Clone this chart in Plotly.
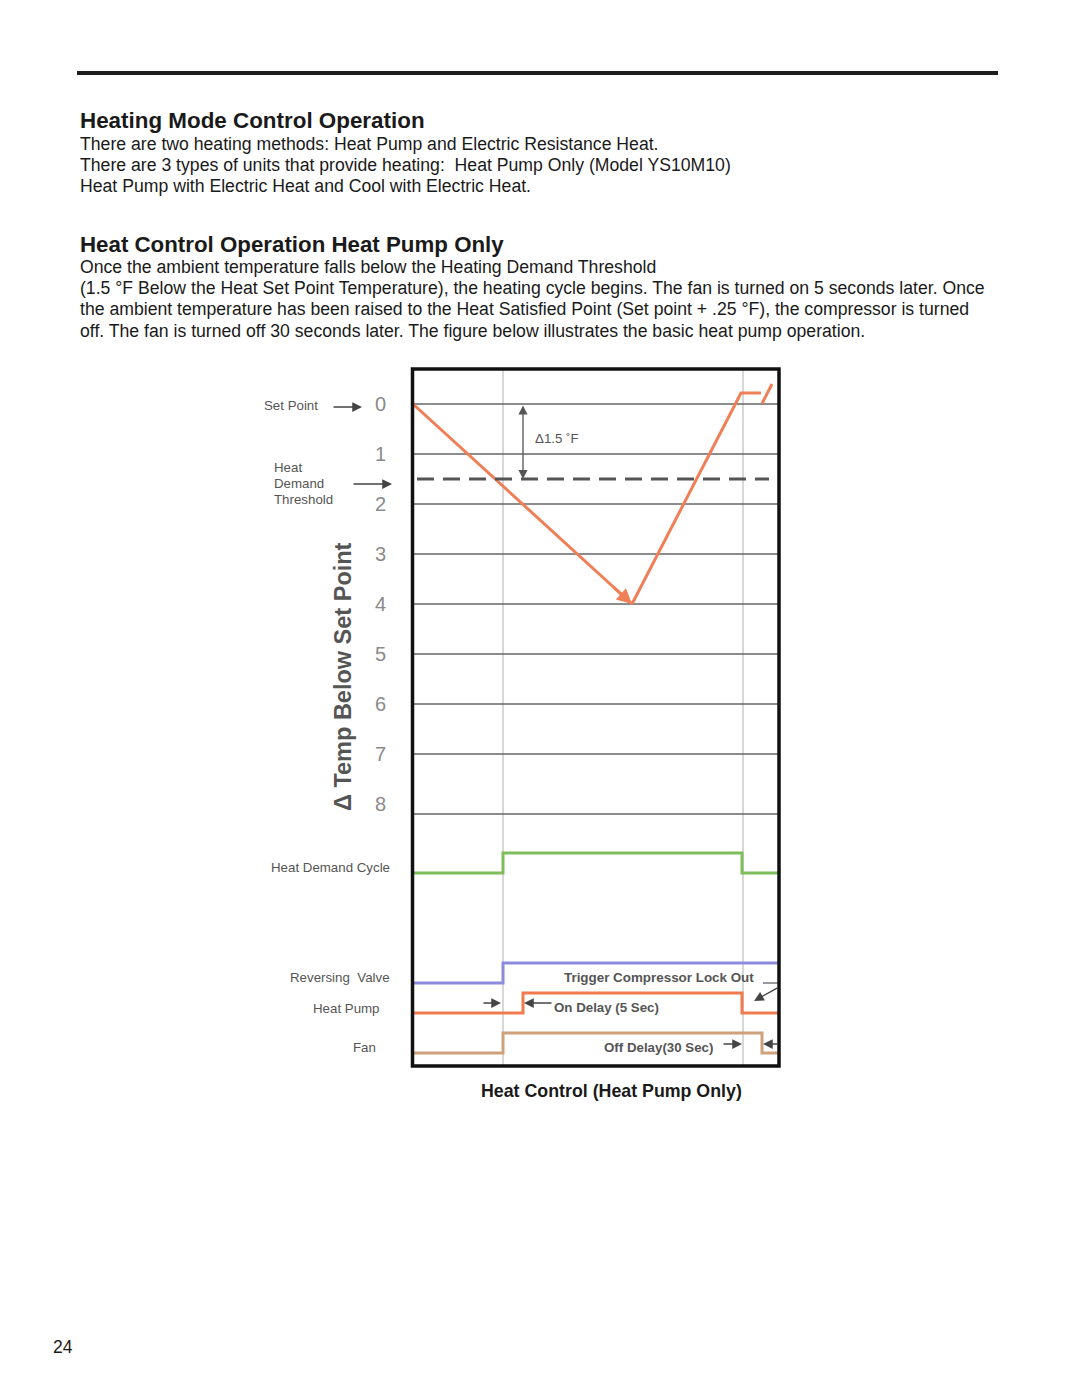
import plotly.graph_objects as go

W, H = 1080, 1397

# ---------------- data ----------------
temp_ticks = [0, 1, 2, 3, 4, 5, 6, 7, 8]
temp_ticktext = ["0", "1", "2", "3", "4", "5", "6", "7", "8"]
grid_levels = [0, 1, 2, 3, 4, 5, 6, 7, 8.2]
threshold = 1.5

# temperature below set point over time (arbitrary time units)
fall_t = [0, 219]
fall_temp = [0, 4]
rise_t = [219, 328, 348]
rise_temp = [4, -0.22, -0.22]
next_t = [349, 359]
next_temp = [-0.01, -0.40]

event_times = [90, 330]  # heat demand start / satisfied

hdc_t = [0, 90, 329, 366]
hdc_state = [0, 1, 0, 0]
rv_t = [0, 90, 366]
rv_state = [0, 1, 1]
hp_t = [0, 110, 329, 366]
hp_state = [0, 1, 0, 0]
fan_t = [0, 90, 349, 366]
fan_state = [0, 1, 0, 0]

# ---------------- helpers ----------------
def px(x):
    return x / W

def py(y):
    return 1 - y / H

FONT = "Liberation Sans, Arial, sans-serif"

fig = go.Figure()

# temperature traces
ORANGE = "#EF7F57"
fig.add_trace(go.Scatter(
    x=fall_t, y=fall_temp, mode="lines",
    line=dict(color=ORANGE, width=3),
    xaxis="x", yaxis="y", hoverinfo="skip", showlegend=False))
fig.add_trace(go.Scatter(
    x=rise_t, y=rise_temp, mode="lines", line=dict(color=ORANGE, width=3),
    xaxis="x", yaxis="y", hoverinfo="skip", showlegend=False))
fig.add_trace(go.Scatter(
    x=next_t, y=next_temp, mode="lines", line=dict(color=ORANGE, width=3),
    xaxis="x", yaxis="y", hoverinfo="skip", showlegend=False))

# signal lanes (baseline offsets on the signal axis, amplitude 1)
lanes = [
    (hdc_t, hdc_state, 9.7, "#7DBE5B"),
    (rv_t, rv_state, 4.2, "#8C8ADA"),
    (hp_t, hp_state, 2.7, "#EE7A4E"),
    (fan_t, fan_state, 0.7, "#CFA07C"),
]
for t, s, base, col in lanes:
    fig.add_trace(go.Scatter(
        x=t, y=[base + v for v in s], mode="lines",
        line=dict(color=col, width=3, shape="hv"),
        xaxis="x", yaxis="y2", hoverinfo="skip", showlegend=False))

shapes = []
# horizontal grid lines
for g in grid_levels:
    shapes.append(dict(type="line", xref="x", yref="y", x0=0, x1=366, y0=g, y1=g,
                       line=dict(color="#666666", width=1.5), layer="below"))
# vertical event lines spanning the whole box
for t in event_times:
    shapes.append(dict(type="line", xref="x", yref="paper", x0=t, x1=t,
                       y0=py(1066), y1=py(369),
                       line=dict(color="#b0b0b0", width=1), layer="below"))
# threshold dashed line
shapes.append(dict(type="line", xref="x", yref="y", x0=4, x1=356, y0=threshold, y1=threshold,
                   line=dict(color="#555555", width=3, dash="17px,9px")))
# trigger short line
shapes.append(dict(type="line", xref="paper", yref="paper", x0=px(763), x1=px(779),
                   y0=py(983), y1=py(983), line=dict(color="#555555", width=1.2)))
# box border
shapes.append(dict(type="rect", xref="paper", yref="paper", x0=px(412.5), x1=px(779),
                   y0=py(1066), y1=py(369), line=dict(color="#111111", width=3.5)))
# top rule
shapes.append(dict(type="line", xref="paper", yref="paper", x0=px(77), x1=px(998),
                   y0=py(73), y1=py(73), line=dict(color="#1e1e1e", width=4)))

ann = []

def text(x, y, s, size=17.65, color="#1a1a1a", family=FONT, xanchor="left", bold=False, **kw):
    if bold:
        s = "<b>" + s + "</b>"
    ann.append(dict(x=px(x), y=py(y), xref="paper", yref="paper", text=s,
                    showarrow=False, xanchor=xanchor, yanchor="middle",
                    font=dict(size=size, color=color, family=family), **kw))

def arrow(hx, hy, tx, ty, color="#444444", width=1.3, size=1.5):
    ann.append(dict(x=px(hx), y=py(hy), xref="paper", yref="paper",
                    ax=tx - hx, ay=ty - hy, axref="pixel", ayref="pixel",
                    text="", showarrow=True, arrowhead=2, arrowsize=size,
                    arrowwidth=width, arrowcolor=color))

# arrowhead at the bottom of the falling temperature line
ann.append(dict(x=fall_t[-1], y=fall_temp[-1], xref="x", yref="y",
                ax=fall_t[-1] - 20, ay=fall_temp[-1] - 20 * (fall_temp[-1] - fall_temp[0]) / (fall_t[-1] - fall_t[0]),
                axref="x", ayref="y", text="", showarrow=True, arrowhead=2,
                arrowsize=1, arrowwidth=3, arrowcolor=ORANGE, standoff=0))

# page text
text(78, 121, "Heating Mode Control Operation", size=22.4, bold=True)
text(78, 144, "There are two heating methods: Heat Pump and Electric Resistance Heat.")
text(78, 165, "There are 3 types of units that provide heating:  Heat Pump Only (Model YS10M10)")
text(78, 186, "Heat Pump with Electric Heat and Cool with Electric Heat.")
text(78, 244, "Heat Control Operation Heat Pump Only", size=22.3, bold=True)
text(78, 267, "Once the ambient temperature falls below the Heating Demand Threshold")
text(78, 288, "(1.5 °F Below the Heat Set Point Temperature), the heating cycle begins. The fan is turned on 5 seconds later. Once")
text(78, 309, "the ambient temperature has been raised to the Heat Satisfied Point (Set point + .25 °F), the compressor is turned")
text(78, 331, "off. The fan is turned off 30 seconds later. The figure below illustrates the basic heat pump operation.")
text(611, 1091, "Heat Control (Heat Pump Only)", size=17.8, xanchor="center", bold=True)
text(51, 1347, "24", size=17.5)

# chart side labels
LG = "#555555"
text(262, 405, "Set Point", size=13.3, color=LG)
arrow(362, 407, 332, 407)
text(272, 467, "Heat", size=13.3, color=LG)
text(272, 483, "Demand", size=13.3, color=LG)
text(272, 499, "Threshold", size=13.3, color=LG)
arrow(392, 484, 352, 484)
text(392, 867, "Heat Demand Cycle", size=13.3, color=LG, xanchor="right")
text(392, 977, "Reversing  Valve", size=13.3, color=LG, xanchor="right")
text(382, 1008, "Heat Pump", size=13.3, color=LG, xanchor="right")
text(378, 1047, "Fan", size=13.3, color=LG, xanchor="right")
ann.append(dict(x=px(343), y=py(677), xref="paper", yref="paper",
                text="<b>Δ Temp Below Set Point</b>", textangle=-90, showarrow=False,
                xanchor="center", yanchor="middle",
                font=dict(size=23.5, color="#555555", family=FONT)))

# delta arrow and label
ann.append(dict(x=110, y=threshold, xref="x", yref="y", ax=110, ay=0, axref="x", ayref="y",
                text="", showarrow=True, arrowhead=2, startarrowhead=2, arrowside="end+start",
                arrowsize=1.4, startarrowsize=1.4, arrowwidth=1.3, arrowcolor="#555555"))
text(533, 438, "Δ1.5 ˚F", size=13.3, color="#555555")

# signal annotations
text(562, 977, "Trigger Compressor Lock Out", size=13.4, color="#555555", bold=True)
text(552, 1007, "On Delay (5 Sec)", size=13.3, color="#555555", bold=True)
text(602, 1047, "Off Delay(30 Sec)", size=13.3, color="#555555", bold=True)
arrow(501, 1003, 482, 1003)
arrow(524, 1003, 553, 1003)
arrow(754, 1001, 779, 987)
arrow(742, 1044, 722, 1044)
arrow(763, 1044, 779, 1044)

fig.update_layout(
    width=W, height=H, margin=dict(l=0, r=0, t=0, b=0),
    paper_bgcolor="white", plot_bgcolor="white",
    showlegend=False,
    xaxis=dict(domain=[px(413), px(779)], range=[0, 366], visible=False, fixedrange=True),
    yaxis=dict(domain=[py(830), py(368)], range=[8.52, -0.72], anchor="x",
               tickvals=temp_ticks, ticktext=temp_ticktext, showgrid=False, zeroline=False,
               showline=False, ticks="", ticklabelstandoff=26,
               tickfont=dict(size=20, color="#8a8a8a", family=FONT)),
    yaxis2=dict(domain=[py(1067), py(830)], range=[0, 11.85], anchor="x", visible=False),
    shapes=shapes, annotations=ann,
)

fig.write_html("out.html")
